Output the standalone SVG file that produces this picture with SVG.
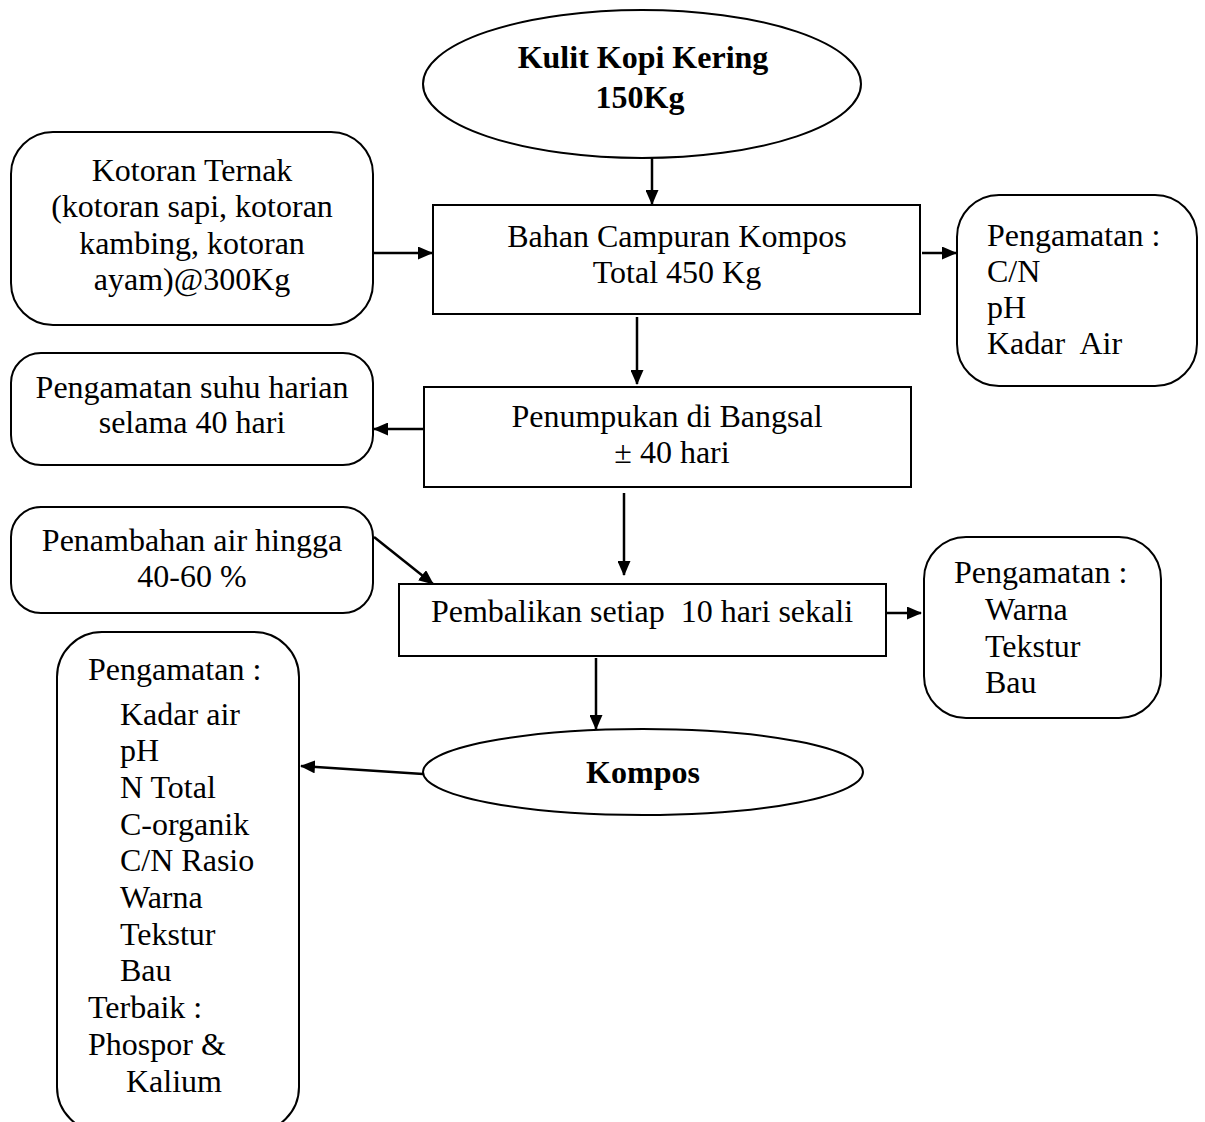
<svg xmlns="http://www.w3.org/2000/svg" width="1205" height="1122" viewBox="0 0 1205 1122">
<style>
.s{fill:#fff;stroke:#000;stroke-width:2}
.t{font-family:"Liberation Serif","Times New Roman",serif;font-size:32px;fill:#000}
.c{text-anchor:middle}
.b{font-weight:bold}
.l{stroke:#000;stroke-width:2.5;fill:none}
</style>
<defs>
<marker id="ah" markerWidth="15" markerHeight="13" refX="14" refY="6.5" orient="auto" markerUnits="userSpaceOnUse" viewBox="0 0 15 13">
<path d="M0,0 L15,6.5 L0,13 z" fill="#000"/>
</marker>
</defs>
<rect width="1205" height="1122" fill="#fff"/>
<g id="connectors">
<line class="l" x1="652" y1="158" x2="652" y2="204" marker-end="url(#ah)"/>
<line class="l" x1="373" y1="253" x2="432" y2="253" marker-end="url(#ah)"/>
<line class="l" x1="922" y1="253" x2="956" y2="253" marker-end="url(#ah)"/>
<line class="l" x1="637" y1="317" x2="637" y2="384" marker-end="url(#ah)"/>
<line class="l" x1="424" y1="429" x2="374" y2="429" marker-end="url(#ah)"/>
<line class="l" x1="624" y1="493" x2="624" y2="575" marker-end="url(#ah)"/>
<line class="l" x1="374" y1="537" x2="433" y2="584" marker-end="url(#ah)"/>
<line class="l" x1="887" y1="613" x2="921" y2="613" marker-end="url(#ah)"/>
<line class="l" x1="596" y1="658" x2="596" y2="729" marker-end="url(#ah)"/>
<line class="l" x1="423" y1="774" x2="301" y2="766" marker-end="url(#ah)"/>
</g>
<g id="kulit">
<ellipse class="s" cx="642" cy="84" rx="219" ry="74"/>
<text class="t c b" x="643" y="68">Kulit Kopi Kering</text>
<text class="t c b" x="640" y="108">150Kg</text>
</g>
<g id="kotoran">
<rect class="s" x="11" y="132" width="362" height="193" rx="42"/>
<text class="t c" x="192" y="181">Kotoran Ternak</text>
<text class="t c" x="192" y="217">(kotoran sapi, kotoran</text>
<text class="t c" x="192" y="254">kambing, kotoran</text>
<text class="t c" x="192" y="290">ayam)@300Kg</text>
</g>
<g id="bahan">
<rect class="s" x="433" y="205" width="487" height="109"/>
<text class="t c" x="677" y="247">Bahan Campuran Kompos</text>
<text class="t c" x="677" y="283">Total 450 Kg</text>
</g>
<g id="obs1">
<rect class="s" x="957" y="195" width="240" height="191" rx="42"/>
<text class="t" x="987" y="246">Pengamatan :</text>
<text class="t" x="987" y="282">C/N</text>
<text class="t" x="987" y="318">pH</text>
<text class="t" x="987" y="354" xml:space="preserve">Kadar  Air</text>
</g>
<g id="penumpukan">
<rect class="s" x="424" y="387" width="487" height="100"/>
<text class="t c" x="667" y="427">Penumpukan di Bangsal</text>
<text class="t c" x="672" y="463">± 40 hari</text>
</g>
<g id="suhu">
<rect class="s" x="11" y="353" width="362" height="112" rx="30"/>
<text class="t c" x="192" y="398">Pengamatan suhu harian</text>
<text class="t c" x="192" y="433">selama 40 hari</text>
</g>
<g id="penambahan">
<rect class="s" x="11" y="507" width="362" height="106" rx="30"/>
<text class="t c" x="192" y="551">Penambahan air hingga</text>
<text class="t c" x="192" y="587">40-60 %</text>
</g>
<g id="pembalikan">
<rect class="s" x="399" y="584" width="487" height="72"/>
<text class="t c" x="642" y="622" xml:space="preserve">Pembalikan setiap  10 hari sekali</text>
</g>
<g id="obs2">
<rect class="s" x="924" y="537" width="237" height="181" rx="42"/>
<text class="t" x="954" y="583">Pengamatan :</text>
<text class="t" x="985" y="620">Warna</text>
<text class="t" x="985" y="657">Tekstur</text>
<text class="t" x="985" y="693">Bau</text>
</g>
<g id="kompos">
<ellipse class="s" cx="643" cy="772" rx="220" ry="43"/>
<text class="t c b" x="643" y="783">Kompos</text>
</g>
<g id="obs3">
<rect class="s" x="57" y="632" width="242" height="500" rx="45"/>
<text class="t" x="88" y="680">Pengamatan :</text>
<text class="t" x="120" y="725">Kadar air</text>
<text class="t" x="120" y="761">pH</text>
<text class="t" x="120" y="798">N Total</text>
<text class="t" x="120" y="835">C-organik</text>
<text class="t" x="120" y="871">C/N Rasio</text>
<text class="t" x="120" y="908">Warna</text>
<text class="t" x="120" y="945">Tekstur</text>
<text class="t" x="120" y="981">Bau</text>
<text class="t" x="88" y="1018">Terbaik :</text>
<text class="t" x="88" y="1055">Phospor &amp;</text>
<text class="t" x="126" y="1092">Kalium</text>
</g>
</svg>
